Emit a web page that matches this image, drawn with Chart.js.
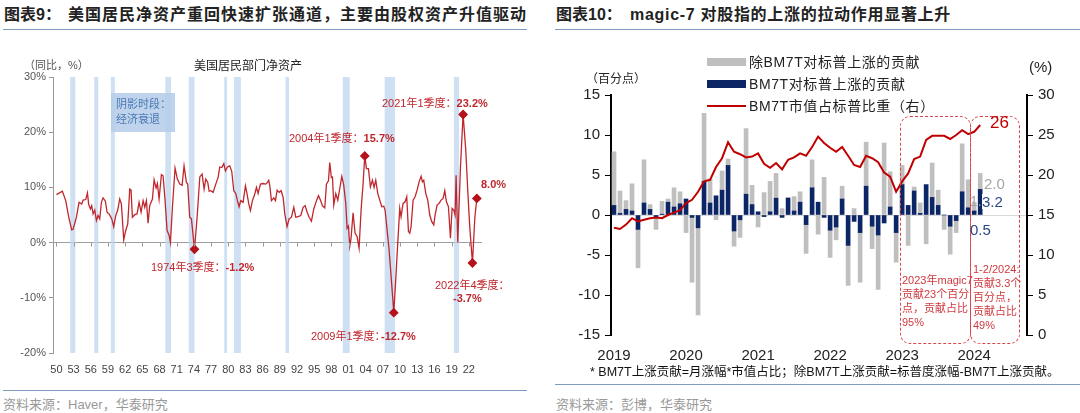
<!DOCTYPE html>
<html>
<head>
<meta charset="utf-8">
<script src="https://cdn.jsdelivr.net/npm/chart.js@4.4.1/dist/chart.umd.min.js"></script>
<style>
  body { margin: 0; background: #fff; }
  #page { position: relative; width: 1080px; height: 413px; overflow: hidden; background: #fff;
          font-family: "Liberation Sans", "Noto Sans CJK SC", sans-serif; color: #222; }
  .t { position: absolute; white-space: nowrap; line-height: 1; }
  .rule { position: absolute; height: 1px; background: #7f9cc0; }
  canvas { position: absolute; }
  .red { color: #c0272d; font-size: 11px; }
  .red b { font-weight: bold; }
  .box { position: absolute; border: 1px dashed #d9474b; border-radius: 10px; box-sizing: border-box; }
  .boxtxt { position: absolute; color: #d03a3f; font-size: 11px; line-height: 14px; white-space: nowrap; }
  .lg { position: absolute; }
</style>
</head>
<body>
<div id="page">
  <!-- left panel -->
  <div class="t" style="left:4px;top:7px;font-size:16px;font-weight:bold;">图表9：</div>
  <div class="t" style="left:68px;top:7px;font-size:16px;font-weight:bold;letter-spacing:1px;">美国居民净资产重回快速扩张通道，主要由股权资产升值驱动</div>
  <div class="rule" style="left:3px;top:29px;width:524px;"></div>

  <canvas id="nwChart" width="540" height="345" style="left:0;top:40px;"></canvas>

  <div class="t" style="left:24px;top:60px;font-size:11px;color:#555;">（同比，%）</div>
  <div class="t" style="left:194px;top:60px;font-size:12px;color:#222;">美国居民部门净资产</div>
  <div style="position:absolute;left:111px;top:93px;width:64px;height:39px;background:rgba(180,205,233,0.85);"></div>
  <div class="t" style="left:116px;top:99px;font-size:11px;color:#4a78b5;">阴影时段：</div>
  <div class="t" style="left:116px;top:114px;font-size:11px;color:#4a78b5;">经济衰退</div>

  <div class="t red" style="left:382px;top:98px;">2021年1季度：<b>23.2%</b></div>
  <div class="t red" style="left:289px;top:133px;">2004年1季度：<b>15.7%</b></div>
  <div class="t red" style="left:151px;top:262px;">1974年3季度：<b>-1.2%</b></div>
  <div class="t red" style="left:481px;top:179px;"><b>8.0%</b></div>
  <div class="t red" style="left:311px;top:331px;">2009年1季度：</div>
  <div class="t red" style="left:381px;top:331px;"><b>-12.7%</b></div>
  <div class="t red" style="left:435px;top:280px;">2022年4季度：</div>
  <div class="t red" style="left:453px;top:293px;"><b>-3.7%</b></div>

  <div class="rule" style="left:3px;top:390px;width:524px;"></div>
  <div class="t" style="left:3px;top:398px;font-size:13px;color:#999;">资料来源：Haver，华泰研究</div>

  <!-- right panel -->
  <div class="t" style="left:556px;top:7px;font-size:16px;font-weight:bold;">图表10：</div>
  <div class="t" style="left:630px;top:7px;font-size:16px;font-weight:bold;letter-spacing:0.7px;">magic-7 对股指的上涨的拉动作用显著上升</div>
  <div class="rule" style="left:555px;top:29px;width:525px;"></div>

  <canvas id="m7Chart" width="540" height="325" style="left:540px;top:40px;"></canvas>

  <div class="lg" style="left:707px;top:58px;width:39px;height:8px;background:#bfbfbf;"></div>
  <div class="t" style="left:749px;top:55px;font-size:14px;letter-spacing:0.6px;">除BM7T对标普上涨的贡献</div>
  <div class="lg" style="left:707px;top:80px;width:39px;height:8px;background:#0b2565;"></div>
  <div class="t" style="left:749px;top:77px;font-size:14px;letter-spacing:0.6px;">BM7T对标普上涨的贡献</div>
  <div class="lg" style="left:707px;top:105px;width:39px;height:2px;background:#c00000;"></div>
  <div class="t" style="left:749px;top:99px;font-size:14px;letter-spacing:0.6px;">BM7T市值占标普比重（右）</div>

  <div class="t" style="left:586px;top:73px;font-size:12px;color:#222;">（百分点）</div>
  <div class="t" style="left:1029px;top:59px;font-size:15px;color:#222;">(%)</div>

  <div class="box" style="left:900px;top:116px;width:71px;height:228px;"></div>
  <div class="box" style="left:970px;top:116px;width:50px;height:228px;"></div>
  <div class="boxtxt" style="left:902px;top:273px;">2023年magic7<br>贡献23个百分<br>点，贡献占比<br>95%</div>
  <div class="boxtxt" style="left:973px;top:262px;">1-2/2024:<br>贡献3.3个<br>百分点，<br>贡献占比<br>49%</div>

  <div class="t" style="left:990px;top:114px;font-size:17px;color:#c00000;">26</div>
  <div class="t" style="left:984px;top:176px;font-size:15px;color:#a6a6a6;">2.0</div>
  <div class="t" style="left:970px;top:194px;font-size:14px;color:#a6a6a6;">1.1</div>
  <div class="t" style="left:982px;top:194px;font-size:15px;color:#2a4a8c;background:#fff;">3.2</div>
  <div class="t" style="left:970px;top:222px;font-size:15px;color:#2a4a8c;">0.5</div>

  <div class="t" style="left:590px;top:366px;font-size:12.5px;color:#111;">* BM7T上涨贡献=月涨幅*市值占比；除BM7T上涨贡献=标普度涨幅-BM7T上涨贡献。</div>
  <div class="rule" style="left:555px;top:384px;width:525px;"></div>
  <div class="t" style="left:556px;top:398px;font-size:13px;color:#999;">资料来源：彭博，华泰研究</div>
</div>

<script>
// ---------- chart 9: US household net worth, YoY % (vertices) ----------
const nwYear = [
  1950.0, 1951.04, 1951.62, 1952.21, 1952.67, 1952.9, 1953.49, 1953.95, 1954.42, 1954.65,
  1955.12, 1955.41, 1955.64, 1955.93, 1956.16, 1956.4, 1956.69, 1956.98, 1957.27, 1957.56,
  1957.85, 1958.14, 1958.55, 1958.84, 1959.19, 1959.66, 1960.0, 1960.35, 1960.7, 1961.05,
  1961.34, 1961.75, 1962.1, 1962.45, 1962.8, 1963.03, 1963.26, 1963.73, 1964.08, 1964.43,
  1964.78, 1965.13, 1965.42, 1965.71, 1966.0, 1966.29, 1966.76, 1967.05, 1967.4, 1967.63,
  1967.92, 1968.33, 1968.62, 1968.97, 1969.32, 1969.67, 1969.9, 1970.25, 1970.71, 1971.12,
  1971.53, 1971.94, 1972.28, 1972.69, 1972.92, 1973.27, 1973.57, 1974.1, 1974.56, 1975.03,
  1975.43, 1975.78, 1976.07, 1976.42, 1976.66, 1976.95, 1977.35, 1977.82, 1978.23, 1978.52,
  1978.87, 1979.22, 1979.51, 1979.86, 1980.26, 1980.61, 1980.96, 1981.31, 1981.6, 1981.89,
  1982.18, 1982.59, 1983.0, 1983.29, 1983.58, 1983.87, 1984.22, 1984.63, 1984.92, 1985.21,
  1985.62, 1986.08, 1986.55, 1986.84, 1987.07, 1987.25, 1987.54, 1987.95, 1988.24, 1988.53,
  1988.88, 1989.23, 1989.58, 1989.87, 1990.27, 1990.62, 1991.03, 1991.44, 1991.79, 1992.2,
  1992.66, 1993.07, 1993.42, 1993.77, 1994.12, 1994.52, 1994.93, 1995.4, 1995.75, 1996.09,
  1996.44, 1996.85, 1997.14, 1997.49, 1997.72, 1998.0, 1998.19, 1998.42, 1998.77, 1999.12,
  1999.47, 1999.82, 2000.16, 2000.51, 2000.75, 2000.98, 2001.21, 2001.44, 2001.79, 2002.14,
  2002.49, 2002.84, 2003.19, 2003.54, 2003.83, 2004.12, 2004.47, 2004.82, 2005.17, 2005.46,
  2005.75, 2006.1, 2006.45, 2006.8, 2007.15, 2007.38, 2007.73, 2008.08, 2008.43, 2008.9,
  2009.24, 2009.59, 2009.94, 2010.17, 2010.52, 2010.87, 2011.16, 2011.46, 2011.69, 2011.92,
  2012.27, 2012.62, 2012.97, 2013.32, 2013.67, 2013.9, 2014.13, 2014.48, 2014.83, 2015.18,
  2015.53, 2015.88, 2016.11, 2016.46, 2016.81, 2017.16, 2017.51, 2017.8, 2018.09, 2018.44,
  2018.79, 2019.08, 2019.37, 2019.6, 2019.78, 2020.07, 2020.54, 2021.0, 2021.47, 2021.81,
  2022.16, 2022.63, 2023.05, 2023.4
];
const nwYoY = [
  8.7, 9.3, 7.6, 4.3, 2.3, 2.4, 4.6, 7.3, 7.0, 7.7,
  7.8, 9.0, 6.9, 6.1, 6.7, 5.2, 5.9, 4.0, 4.9, 4.3,
  7.3, 8.1, 7.5, 5.5, 5.2, 4.3, 2.9, 4.9, 5.9, 7.9,
  7.0, 0.5, 2.2, 3.4, 9.7, 9.5, 4.6, 5.1, 5.2, 7.3,
  5.5, 7.6, 6.4, 7.6, 3.5, 6.7, 7.9, 11.4, 9.9, 10.7,
  7.9, 12.3, 12.1, 7.6, 2.2, 1.3, 0.0, 6.4, 13.5, 11.5,
  10.6, 10.4, 13.9, 10.9, 10.6, 4.6, 4.3, -1.2, 4.6, 11.9,
  12.4, 9.7, 11.5, 10.9, 9.3, 9.4, 9.1, 10.6, 11.8, 13.7,
  13.6, 14.3, 13.0, 13.7, 13.9, 12.9, 9.4, 8.9, 7.6, 6.5,
  7.6, 7.3, 10.3, 8.8, 7.0, 5.8, 7.6, 8.8, 10.0, 8.9,
  10.6, 10.7, 10.6, 10.9, 11.3, 10.3, 7.6, 8.1, 7.6, 9.5,
  9.1, 9.4, 8.2, 5.2, 2.9, 4.3, 4.6, 6.4, 4.6, 4.7,
  4.9, 6.4, 6.7, 5.5, 4.6, 3.9, 6.1, 7.6, 8.5, 7.7,
  6.7, 6.3, 10.6, 11.2, 14.5, 11.8, 11.9, 6.8, 8.9, 7.7,
  9.8, 12.0, 10.4, 7.1, 2.6, 3.0, -0.7, 0.8, 5.4, 1.7,
  1.1, -1.0, 5.9, 10.7, 15.7, 13.4, 13.4, 10.1, 11.3, 10.0,
  11.3, 8.9, 7.7, 6.5, 6.6, 5.9, 2.3, -1.3, -6.1, -12.7,
  -6.7, -0.1, 6.2, 4.7, 7.1, 7.4, 8.3, 2.0, 1.7, 2.9,
  7.7, 8.3, 9.5, 11.0, 12.0, 11.0, 11.3, 8.9, 7.7, 5.0,
  3.8, 3.2, 5.0, 6.8, 7.1, 7.7, 8.0, 9.4, 7.4, 6.5,
  0.8, 6.2, 5.9, 5.0, 12.2, 0.0, 13.7, 23.2, 16.7, 9.5,
  2.9, -3.7, 4.5, 8.0
];
// highlighted quarters (1974Q3, 2004Q1, 2009Q1, 2021Q1, 2022Q4, latest)
const nwMarkYears = [1974.1, 2003.83, 2008.9, 2021.0, 2022.63, 2023.4];
// recession shading, start / end (as placed on the picture's axis)
const recStart = [1952.4, 1956.6, 1959.5, 1969.0, 1973.1, 1979.3, 1981.0, 1990.0, 2000.0, 2007.3, 2019.4];
const recEnd   = [1953.3, 1957.3, 1960.2, 1970.0, 1974.1, 1979.8, 1982.2, 1990.6, 2001.2, 2009.1, 2020.3];
const nwTickYears = [1950, 1953, 1956, 1959, 1962, 1965, 1968, 1971, 1974, 1977, 1980, 1983, 1986,
                     1989, 1992, 1995, 1998, 2001, 2004, 2007, 2010, 2013, 2016, 2019, 2022];
const nwTickLabels = ['50', '53', '56', '59', '62', '65', '68', '71', '74', '77', '80', '83', '86',
                      '89', '92', '95', '98', '01', '04', '07', '10', '13', '16', '19', '22'];

// ---------- chart 10: monthly S&P contribution, 2019-01 .. 2024-02 ----------
const m7YearLabels = ['2019', '2020', '2021', '2022', '2023', '2024'];
const bm7tContrib = [
  1.2, 0.2, 0.7, 0.5, -1.8, 1.5, 0.7, -0.3, 0.1, 1.6, 1.0, 1.4,
  2.0, -0.3, -1.6, 4.2, 1.5, 2.4, 3.1, 6.2, -2.0, -0.6, 2.6, 1.3,
  0.4, -0.2, 0.4, 2.1, -0.3, 2.1, 0.5, 1.6, -1.2, 3.4, 1.6, -0.3,
  -1.9, -1.5, 2.0, -3.8, -0.8, -2.2, 3.6, -1.4, -2.5, -1.0, 1.0, -2.2,
  3.8, 1.2, 3.0, 0.2, 3.8, 2.2, 1.2, 0.0, -1.4, -0.7, 2.9, 0.9,
  0.5, 3.2
];
const exBm7tContrib = [
  6.7, 2.8, 1.1, 3.4, -4.8, 5.4, 0.6, -1.5, 1.6, 0.4, 2.4, 1.5,
  -2.2, -8.1, -10.9, 8.5, 3.0, -0.6, 2.4, 0.8, -1.9, -2.2, 8.2, 2.4,
  -1.5, 2.8, 3.8, 3.1, 0.8, 0.1, 1.8, 1.3, -3.6, 3.5, -2.4, 4.7,
  -3.4, -1.6, 1.6, -5.0, 0.8, -6.2, 5.5, -2.8, -6.8, 9.0, 4.4, -3.7,
  2.4, -3.8, 0.5, 1.3, -3.6, 4.3, 1.9, -1.8, -3.5, -1.5, 6.0, 3.5,
  1.1, 2.0
];
const bm7tShare = [
  13.4, 13.25, 13.8, 14.6, 14.2, 14.4, 14.6, 14.7, 14.6, 15.0, 15.3, 15.6,
  16.5, 16.9, 17.9, 19.2, 19.4, 21.0, 22.1, 24.1, 22.9, 22.6, 22.2, 22.3,
  22.7, 21.4, 20.9, 21.5, 20.7, 21.9, 22.2, 22.7, 22.4, 23.5, 24.8, 24.0,
  23.4, 22.9, 23.5, 22.4, 21.25, 21.0, 22.4, 22.1, 21.6, 20.3, 19.8, 17.9,
  19.2, 20.2, 22.0, 22.3, 24.4, 24.9, 24.9, 24.9, 24.5, 25.0, 25.6, 25.1,
  25.4, 26.25
];

Chart.defaults.font.family = '"Liberation Sans", "Noto Sans CJK SC", sans-serif';
Chart.defaults.animation = false;

// shaded recessions + little ticks hanging off the 0% line
const recessionPlugin = {
  id: 'recessions',
  beforeDatasetsDraw(chart) {
    const { ctx, chartArea, scales } = chart;
    ctx.save();
    ctx.fillStyle = 'rgba(190, 213, 237, 0.75)';
    recStart.forEach((s, i) => {
      const x1 = scales.x.getPixelForValue(s);
      const x2 = scales.x.getPixelForValue(recEnd[i]);
      ctx.fillRect(x1, chartArea.top, x2 - x1, chartArea.bottom - chartArea.top);
    });
    ctx.restore();
  },
  afterDatasetsDraw(chart) {
    const { ctx, scales } = chart;
    const y0 = scales.y.getPixelForValue(0);
    ctx.save();
    ctx.strokeStyle = '#999';
    ctx.lineWidth = 1;
    nwTickYears.forEach(v => {
      const x = Math.round(scales.x.getPixelForValue(v)) + 0.5;
      ctx.beginPath();
      ctx.moveTo(x, y0);
      ctx.lineTo(x, y0 + 4);
      ctx.stroke();
    });
    ctx.restore();
  }
};

new Chart(document.getElementById('nwChart'), {
  type: 'line',
  data: {
    datasets: [{
      label: '美国居民部门净资产',
      data: nwYear.map((yr, i) => ({ x: yr, y: nwYoY[i] })),
      borderColor: '#c0272d',
      borderWidth: 1.3,
      tension: 0,
      pointStyle: 'rectRot',
      pointBackgroundColor: '#b5121b',
      pointBorderColor: '#b5121b',
      pointRadius: ctx => nwMarkYears.includes(nwYear[ctx.dataIndex]) ? 4 : 0
    }]
  },
  options: {
    responsive: false,
    layout: { padding: { top: 37, right: 58, bottom: 0, left: 0 } },
    plugins: { legend: { display: false }, tooltip: { enabled: false } },
    scales: {
      x: {
        type: 'linear', min: 1949.4, max: 2024.3, offset: false,
        afterBuildTicks: s => { s.ticks = nwTickYears.map(v => ({ value: v })); },
        afterFit: s => { s.height = 32; },
        grid: { display: false, drawTicks: false },
        border: { display: false },
        ticks: { autoSkip: false, maxRotation: 0, padding: 10, color: '#444', font: { size: 11 },
                 callback: (v, i) => nwTickLabels[i] }
      },
      y: {
        min: -20, max: 30,
        afterFit: s => { s.width = 53; },
        grid: { color: c => c.tick && c.tick.value === 0 ? '#a0a0a0' : 'rgba(0,0,0,0)',
                tickColor: '#999', tickLength: 4 },
        border: { color: '#999', width: 1 },
        ticks: { stepSize: 10, padding: 3, color: '#555', font: { size: 11 }, callback: v => v + '%' }
      }
    }
  },
  plugins: [recessionPlugin]
});

new Chart(document.getElementById('m7Chart'), {
  type: 'bar',
  data: {
    datasets: [
      {
        label: 'BM7T对标普上涨的贡献',
        data: bm7tContrib.map((v, i) => ({ x: i, y: v })),
        backgroundColor: '#0b2565',
        barThickness: 4,
        yAxisID: 'y',
        order: 1
      },
      {
        label: '除BM7T对标普上涨的贡献',
        data: exBm7tContrib.map((v, i) => ({ x: i, y: v })),
        backgroundColor: '#bfbfbf',
        barThickness: 4,
        yAxisID: 'y',
        order: 1
      },
      {
        type: 'line',
        label: 'BM7T市值占标普比重（右）',
        data: bm7tShare.map((v, i) => ({ x: i, y: v })),
        borderColor: '#c00000',
        borderWidth: 2,
        pointRadius: 0,
        tension: 0,
        yAxisID: 'y1',
        order: 0
      }
    ]
  },
  options: {
    responsive: false,
    layout: { padding: { top: 55, right: 0, bottom: 0, left: 0 } },
    plugins: { legend: { display: false }, tooltip: { enabled: false } },
    scales: {
      x: {
        type: 'linear', min: -0.5, max: 68.8, offset: false, stacked: true,
        afterBuildTicks: s => { s.ticks = [0, 12, 24, 36, 48, 60].map(v => ({ value: v })); },
        afterFit: s => { s.height = 30; },
        grid: { display: false, drawTicks: false },
        border: { display: false },
        ticks: { autoSkip: false, maxRotation: 0, padding: 12, color: '#222', font: { size: 15 },
                 callback: (v, i) => m7YearLabels[i] }
      },
      y: {
        min: -15, max: 15, stacked: true,
        afterFit: s => { s.width = 71; },
        grid: { color: c => c.tick && c.tick.value === 0 ? '#d9d9d9' : 'rgba(0,0,0,0)',
                tickColor: '#000', tickLength: 6 },
        border: { color: '#000', width: 2 },
        ticks: { stepSize: 5, padding: 5, color: '#222', font: { size: 15 } }
      },
      y1: {
        position: 'right', min: 0, max: 30,
        afterFit: s => { s.width = 53; },
        grid: { drawOnChartArea: false, tickColor: '#000', tickLength: 6 },
        border: { color: '#000', width: 2 },
        ticks: { stepSize: 5, padding: 5, color: '#222', font: { size: 15 } }
      }
    }
  }
});
</script>
</body>
</html>
